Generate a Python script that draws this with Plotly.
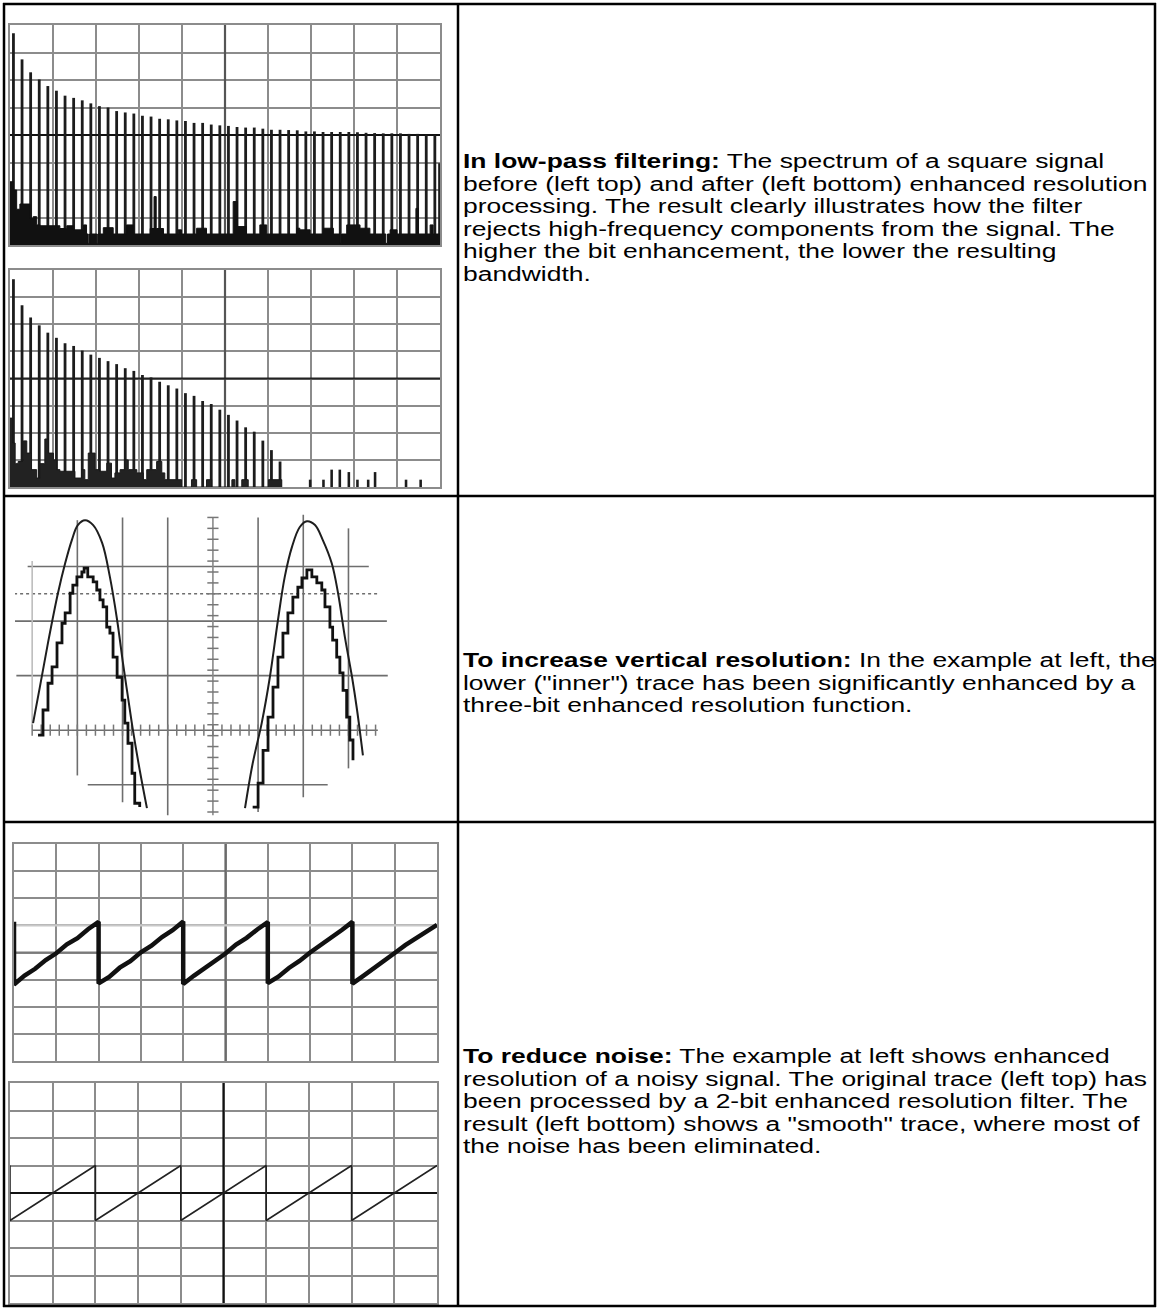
import plotly.graph_objects as go

W, H = 1158, 1309

# ---------------- data ----------------
# spectrum before enhanced resolution (frequency in divisions, level in divisions)
top_freq = [0.08, 0.28, 0.48, 0.68, 0.88, 1.08, 1.28, 1.48, 1.68, 1.88,
            2.08, 2.28, 2.48, 2.68, 2.88, 3.08, 3.28, 3.48, 3.68, 3.88,
            4.08, 4.28, 4.48, 4.68, 4.88, 5.08, 5.28, 5.48, 5.68, 5.88,
            6.08, 6.28, 6.48, 6.68, 6.88, 7.08, 7.28, 7.48, 7.68, 7.88,
            8.08, 8.28, 8.48, 8.68, 8.88, 9.08, 9.28, 9.48, 9.68, 9.88, 9.99]
top_level = [7.70, 6.75, 6.28, 6.02, 5.78, 5.61, 5.43, 5.35, 5.26, 5.15,
             5.05, 5.00, 4.87, 4.82, 4.78, 4.70, 4.67, 4.59, 4.57, 4.53,
             4.51, 4.44, 4.44, 4.38, 4.35, 4.33, 4.29, 4.27, 4.27, 4.23,
             4.19, 4.19, 4.18, 4.17, 4.13, 4.13, 4.11, 4.11, 4.11, 4.11,
             4.10, 4.08, 4.07, 4.06, 4.06, 4.06, 4.04, 4.04, 4.02, 4.01, 2.97]
top_noise_f = [0.0, 0.08, 0.155, 0.23, 0.465, 0.54, 0.62, 0.70, 1.16, 1.32,
               1.47, 1.71, 1.78, 1.82, 1.85, 2.02, 2.04, 2.17, 2.40, 2.71,
               2.87, 3.26, 3.35, 3.40, 3.57, 3.91, 3.99, 4.34, 4.57, 5.19,
               5.29, 5.50, 5.81, 5.97, 6.67, 6.74, 6.98, 7.29, 7.52, 7.67,
               7.71, 7.83, 8.14, 8.37, 8.74, 8.78, 8.84, 9.00, 9.44, 9.50,
               9.77, 9.84, 10.0]
top_noise_level = [2.3, 2.0, 1.3, 1.49, 0.97, 1.03, 0.73, 0.7, 0.6, 0.7,
                   0.55, 0.73, 0.4, 0.06, 0.4, 0.06, 0.4, 0.63, 0.4, 0.73,
                   0.4, 0.6, 1.76, 0.6, 0.4, 0.55, 0.4, 0.61, 0.4, 1.58,
                   0.67, 0.4, 0.73, 0.4, 0.61, 0.55, 0.4, 0.61, 0.4, 0.06,
                   0.4, 0.73, 0.61, 0.4, 0.06, 0.4, 0.55, 0.4, 1.33, 0.4,
                   0.73, 0.4, 0.4]

# spectrum after enhanced resolution
bot_freq = [0.08, 0.28, 0.48, 0.68, 0.88, 1.08, 1.28, 1.48, 1.68, 1.88,
            2.08, 2.28, 2.48, 2.68, 2.88, 3.08, 3.28, 3.48, 3.68, 3.88,
            4.08, 4.28, 4.48, 4.68, 4.88, 5.08, 5.28, 5.48, 5.68, 5.88,
            6.08, 6.28]
bot_level = [7.66, 6.70, 6.25, 5.96, 5.69, 5.50, 5.30, 5.20, 5.03, 4.88,
             4.76, 4.64, 4.53, 4.38, 4.28, 4.13, 4.04, 3.88, 3.75, 3.63,
             3.46, 3.36, 3.17, 3.06, 2.85, 2.66, 2.45, 2.20, 2.04, 1.71,
             1.36, 0.94]
bot_spur_freq = [6.98, 7.29, 7.48, 7.67, 7.88, 8.08, 8.33, 8.49, 9.21, 9.55]
bot_spur_level = [0.27, 0.27, 0.64, 0.64, 0.55, 0.27, 0.27, 0.55, 0.27, 0.27]
bot_noise_f = [0, 0.06, 0.12, 0.19, 0.31, 0.39, 0.50, 0.62, 0.70, 0.81,
               0.89, 1.01, 1.09, 1.16, 1.51, 1.67, 1.74, 1.82, 1.98, 2.09,
               2.25, 2.36, 2.44, 2.56, 2.67, 2.75, 2.95, 3.10, 3.18, 3.41,
               3.53, 3.60, 3.99, 4.22, 4.34, 4.57, 4.69, 5.16, 5.23, 5.39,
               5.54, 6.01, 6.32]
bot_noise_level = [2.54, 1.62, 0.86, 0.94, 1.7, 1.25, 0.64, 0.33, 0.86, 1.77,
                   1.25, 1.0, 0.64, 0.58, 0.33, 0.64, 0.27, 1.25, 0.64, 0.58,
                   0.88, 0.33, 0.52, 0.64, 1.0, 0.64, 0.52, 0.27, 0.64, 0.94,
                   0.52, 0.27, 0.0, 0.27, 0.0, 0.27, 0.0, 0.27, 0.0, 0.27,
                   0.0, 0.27, 0.0]

# vertical resolution: original (outer) and 3-bit enhanced (inner) traces
outer1_t = [-3.98, -3.83, -3.65, -3.43, -3.27, -3.12, -2.99, -2.83, -2.65, -2.45,
            -2.28, -2.12, -1.99, -1.88, -1.77, -1.62, -1.46]
outer1_v = [0.13, 0.79, 1.60, 2.51, 3.06, 3.49, 3.76, 3.85, 3.76, 3.43,
            2.81, 2.02, 1.23, 0.61, 0.0, -0.73, -1.43]
outer2_t = [0.71, 0.88, 1.08, 1.26, 1.44, 1.59, 1.75, 1.92, 2.08, 2.26,
            2.43, 2.63, 2.77, 2.92, 3.08, 3.19, 3.32]
outer2_v = [-1.43, -0.61, 0.13, 0.97, 2.02, 2.81, 3.36, 3.72, 3.83, 3.76,
            3.49, 3.06, 2.51, 1.71, 0.97, 0.37, -0.46]
inner1_t = [-3.87, -3.76, -3.65, -3.56, -3.45, -3.34, -3.27, -3.16, -3.10, -3.01,
            -2.90, -2.85, -2.77, -2.65, -2.57, -2.50, -2.43, -2.35, -2.28, -2.21,
            -2.12, -2.01, -1.95, -1.88, -1.79, -1.73, -1.62]
inner1_v = [-0.09, 0.37, 0.86, 1.16, 1.60, 1.96, 2.15, 2.51, 2.66, 2.81,
            2.90, 2.97, 2.81, 2.72, 2.57, 2.39, 2.26, 1.89, 1.78, 1.34,
            0.97, 0.55, 0.13, -0.24, -0.79, -1.34, -1.41]
inner2_t = [0.88, 1.00, 1.11, 1.22, 1.33, 1.44, 1.55, 1.66, 1.77, 1.88,
            1.97, 2.08, 2.19, 2.30, 2.41, 2.48, 2.59, 2.65, 2.74, 2.81,
            2.88, 2.96, 3.03, 3.10]
inner2_v = [-1.41, -0.97, -0.37, 0.24, 0.79, 1.34, 1.78, 2.15, 2.44, 2.62,
            2.79, 2.94, 2.81, 2.70, 2.57, 2.26, 1.89, 1.65, 1.34, 1.05,
            0.73, 0.24, -0.18, -0.55]

# noise reduction: noisy sawtooth and 2-bit enhanced sawtooth
saw_noisy_t = [0, 0, 0.25, 0.5, 0.75, 1.0, 1.25, 1.5, 1.75, 2.0,
               2.0, 2.25, 2.5, 2.75, 3.0, 3.25, 3.5, 3.75, 4.0,
               4.0, 4.25, 4.5, 4.75, 5.0, 5.25, 5.5, 5.75, 6.0,
               6.0, 6.25, 6.5, 6.75, 7.0, 7.25, 7.5, 7.75, 8.0,
               8.0, 8.25, 8.5, 8.75, 9.0, 9.25, 9.5, 9.75, 10.0]
saw_noisy_v = [5.13, 2.82, 3.15, 3.40, 3.72, 3.97, 4.30, 4.53, 4.86, 5.13,
               2.86, 3.10, 3.44, 3.68, 4.01, 4.25, 4.57, 4.82, 5.14,
               2.84, 3.14, 3.41, 3.71, 3.96, 4.29, 4.54, 4.85, 5.12,
               2.87, 3.11, 3.43, 3.69, 4.00, 4.26, 4.56, 4.83, 5.13,
               2.85, 3.13, 3.40, 3.70, 3.98, 4.27, 4.52, 4.78, 5.02]
saw_smooth_t = [0, 0, 2, 2, 4, 4, 6, 6, 8, 8, 10]
saw_smooth_v = [5, 3, 5, 3, 5, 3, 5, 3, 5, 3, 5]

# text of the right-hand column
row1_lines = ["<b>In low-pass filtering:</b> The spectrum of a square signal",
              "before (left top) and after (left bottom) enhanced resolution",
              "processing. The result clearly illustrates how the filter",
              "rejects high-frequency components from the signal. The",
              "higher the bit enhancement, the lower the resulting",
              "bandwidth."]
row2_lines = ["<b>To increase vertical resolution:</b> In the example at left, the",
              "lower (\"inner\") trace has been significantly enhanced by a",
              "three-bit enhanced resolution function."]
row3_lines = ["<b>To reduce noise:</b> The example at left shows enhanced",
              "resolution of a noisy signal. The original trace (left top) has",
              "been processed by a 2-bit enhanced resolution filter. The",
              "result (left bottom) shows a \"smooth\" trace, where most of",
              "the noise has been eliminated."]

# ---------------- layout helpers ----------------
GRID = "#8c8c8c"
FONT = "Liberation Sans, Arial, sans-serif"


def fx(px):
    return px / W


def fy(py):
    return 1 - py / H


def grid_axes(x0, x1, y0, y1, xr, yr):
    xa = dict(domain=[fx(x0), fx(x1)], range=xr, dtick=1, tick0=0, showgrid=True,
              gridcolor=GRID, gridwidth=2, showline=True, mirror=True,
              linecolor=GRID, linewidth=2, showticklabels=False, ticks="",
              zeroline=False, fixedrange=True)
    ya = dict(domain=[fy(y1), fy(y0)], range=yr, dtick=1, tick0=0, showgrid=True,
              gridcolor=GRID, gridwidth=2, showline=True, mirror=True,
              linecolor=GRID, linewidth=2, showticklabels=False, ticks="",
              zeroline=False, fixedrange=True)
    return xa, ya


fig = go.Figure()

# ---- panel 1: spectrum before ----
fig.add_trace(go.Scatter(x=top_noise_f, y=top_noise_level, mode="lines",
                         line=dict(shape="hv", color="#111", width=1),
                         fill="tozeroy", fillcolor="#111", xaxis="x", yaxis="y"))
fig.add_trace(go.Bar(x=top_freq, y=top_level, width=0.065,
                     marker=dict(color="#1c1c1c", line=dict(width=0)),
                     xaxis="x", yaxis="y"))

# ---- panel 2: spectrum after ----
fig.add_trace(go.Scatter(x=bot_noise_f, y=bot_noise_level, mode="lines",
                         line=dict(shape="hv", color="#1a1a1a", width=1),
                         fill="tozeroy", fillcolor="#222", xaxis="x2", yaxis="y2"))
fig.add_trace(go.Bar(x=bot_freq, y=bot_level, width=0.065,
                     marker=dict(color="#1c1c1c", line=dict(width=0)),
                     xaxis="x2", yaxis="y2"))
fig.add_trace(go.Bar(x=bot_spur_freq, y=bot_spur_level, width=0.06,
                     marker=dict(color="#1c1c1c", line=dict(width=0)),
                     xaxis="x2", yaxis="y2"))

# ---- panel 3: vertical resolution ----
tick_x = [round(-4.0 + 0.2 * i, 2) for i in range(39)]
tick_y = [round(-1.5 + 0.2 * i, 2) for i in range(28)]
fig.add_trace(go.Scatter(x=tick_x, y=[0] * len(tick_x), mode="markers",
                         marker=dict(symbol="line-ns", size=8,
                                     line=dict(color="#777", width=1.5)),
                         xaxis="x3", yaxis="y3"))
fig.add_trace(go.Scatter(x=[0] * len(tick_y), y=tick_y, mode="markers",
                         marker=dict(symbol="line-ew", size=8,
                                     line=dict(color="#777", width=1.5)),
                         xaxis="x3", yaxis="y3"))
for tx, ty in [(outer1_t, outer1_v), (outer2_t, outer2_v)]:
    fig.add_trace(go.Scatter(x=tx, y=ty, mode="lines",
                             line=dict(shape="spline", color="#1e1e1e", width=2),
                             xaxis="x3", yaxis="y3"))
for tx, ty in [(inner1_t, inner1_v), (inner2_t, inner2_v)]:
    fig.add_trace(go.Scatter(x=tx, y=ty, mode="lines",
                             line=dict(shape="hv", color="#111", width=2.8),
                             xaxis="x3", yaxis="y3"))

# ---- panel 4: noisy sawtooth ----
fig.add_trace(go.Scatter(x=saw_noisy_t, y=saw_noisy_v, mode="lines",
                         line=dict(color="#111", width=4.5),
                         xaxis="x4", yaxis="y4"))

# ---- panel 5: smoothed sawtooth ----
fig.add_trace(go.Scatter(x=saw_smooth_t, y=saw_smooth_v, mode="lines",
                         line=dict(color="#222", width=1.6),
                         xaxis="x5", yaxis="y5"))

xa1, ya1 = grid_axes(10, 440, 25, 245, [0, 10], [0, 8])
xa2, ya2 = grid_axes(10, 440, 270, 487, [0, 10], [0, 8])
xa4, ya4 = grid_axes(14, 437, 844, 1061, [0, 10], [0, 8])
xa5, ya5 = grid_axes(10, 437, 1083, 1303, [0, 10], [0, 8])
xa1["anchor"] = "y"; ya1["anchor"] = "x"
xa2["anchor"] = "y2"; ya2["anchor"] = "x2"
xa4["anchor"] = "y4"; ya4["anchor"] = "x4"
xa5["anchor"] = "y5"; ya5["anchor"] = "x5"
xa3 = dict(domain=[fx(15), fx(395)], range=[-4.38, 4.03], visible=False,
           anchor="y3", fixedrange=True)
ya3 = dict(domain=[fy(818), fy(512)], range=[-1.61, 4.0], visible=False,
           anchor="x3", fixedrange=True)

shapes = []

# centre lines of the spectrum and sawtooth graticules
for xr, yr, vc, hc in [("x", "y", "#555", "#111"), ("x2", "y2", "#555", "#222"),
                       ("x4", "y4", "#6a6a6a", "#7a7a7a"), ("x5", "y5", "#111", "#111")]:
    shapes.append(dict(type="line", xref=xr, yref=yr, x0=5, x1=5, y0=0, y1=8,
                       line=dict(color=vc, width=2.2), layer="between"))
    shapes.append(dict(type="line", xref=xr, yref=yr, x0=0, x1=10, y0=4, y1=4,
                       line=dict(color=hc, width=2.2), layer="between"))
shapes.append(dict(type="line", xref="x4", yref="y4", x0=0, x1=10, y0=5, y1=5,
                   line=dict(color="#c8c8c8", width=2.2), layer="between"))

# graticule of the vertical-resolution screen (partial, as on the scope capture)
h_lines = [(3, -4.1, 3.45, "solid"), (2.5, -4.4, 3.65, "dot"), (2, -4.55, 3.85, "solid"),
           (1, -4.35, 3.87, "solid"), (0, -4.0, 3.65, "solid"), (-1, -2.77, 2.54, "solid")]
for yv, xa_, xb_, dash in h_lines:
    shapes.append(dict(type="line", xref="x3", yref="y3", x0=xa_, x1=xb_, y0=yv, y1=yv,
                       line=dict(color="#6e6e6e", width=1.6, dash=dash), layer="below"))
v_lines = [(-4, 0.1, 3.1, "#bdbdbd"), (-3, -0.83, 3.85, "#6e6e6e"), (-2, -1.32, 3.9, "#6e6e6e"),
           (-1, -1.56, 3.9, "#6e6e6e"), (0, -1.56, 3.9, "#8a8a8a"), (1, -1.5, 3.9, "#6e6e6e"),
           (2, -1.23, 3.95, "#6e6e6e"), (3, -0.7, 3.7, "#6e6e6e")]
for xv, ya_, yb_, col in v_lines:
    shapes.append(dict(type="line", xref="x3", yref="y3", x0=xv, x1=xv, y0=ya_, y1=yb_,
                       line=dict(color=col, width=1.6), layer="below"))

# table borders
BL = dict(color="#000", width=2.5)
for (x0, y0, x1, y1) in [(3, 4, 1156, 4), (3, 1306, 1156, 1306), (4, 3, 4, 1307),
                         (1155, 3, 1155, 1307), (458, 3, 458, 1307),
                         (3, 496, 1156, 496), (3, 822, 1156, 822)]:
    shapes.append(dict(type="line", xref="paper", yref="paper", x0=fx(x0), x1=fx(x1),
                       y0=fy(y0), y1=fy(y1), line=BL, layer="above"))

annotations = []
for lines, ys in [(row1_lines, [161, 184, 206, 229, 251, 274]),
                  (row2_lines, [660, 683, 705]),
                  (row3_lines, [1056, 1079, 1101, 1124, 1146])]:
    for txt, yy in zip(lines, ys):
        annotations.append(dict(text=txt, x=fx(461), y=fy(yy), xref="paper", yref="paper",
                                xanchor="left", yanchor="middle", showarrow=False,
                                font=dict(family=FONT, size=19.5, color="#000")))

fig.update_layout(
    width=W, height=H, margin=dict(l=0, r=0, t=0, b=0),
    paper_bgcolor="white", plot_bgcolor="white", showlegend=False,
    barmode="overlay", hovermode=False,
    xaxis=xa1, yaxis=ya1, xaxis2=xa2, yaxis2=ya2, xaxis3=xa3, yaxis3=ya3,
    xaxis4=xa4, yaxis4=ya4, xaxis5=xa5, yaxis5=ya5,
    shapes=shapes, annotations=annotations,
)

# page styling: no body margin, and the wide (horizontally stretched) type of the original page
post = """
document.body.style.margin = '0px';
document.body.style.overflow = 'hidden';
var gd = document.getElementById('{plot_id}');
gd.querySelectorAll('text.annotation-text').forEach(function (t) {
    t.style.transformBox = 'fill-box';
    t.style.transformOrigin = '0% 50%';
    t.style.transform = 'scaleX(1.355)';
});
"""

fig.write_html("out.html", config={"displayModeBar": False, "staticPlot": True},
               post_script=post)
